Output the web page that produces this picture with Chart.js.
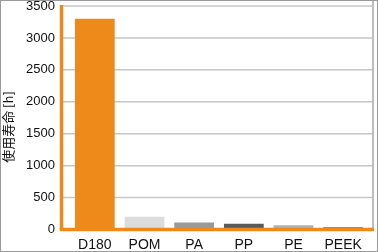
<!DOCTYPE html>
<html>
<head>
<meta charset="utf-8">
<script src="https://cdn.jsdelivr.net/npm/chart.js@4"></script>
<style>
html,body{margin:0;padding:0;background:#fff;}
#wrap{width:378px;height:252px;position:relative;}
</style>
</head>
<body>
<div id="wrap"><canvas id="c" width="378" height="252"></canvas></div>
<script>
const categories = ["D180", "POM", "PA", "PP", "PE", "PEEK"];
const lifetimeHours = [3300, 200, 110, 90, 65, 40];
const barColors = ["#EE8A1A", "#DCDCDC", "#9A9A9A", "#5A5A5A", "#B0B0B0", "#8E8E8E"];
const yTitle = "使用寿命 [h]";
const yMax = 3500;
const yStep = 500;

const ORANGE = "#EE8A1A";
const GRID = "#C6C6C6";

const framePlugin = {
  id: "frame",
  beforeDatasetsDraw(chart) {
    const ctx = chart.ctx, a = chart.chartArea, y = chart.scales.y;
    ctx.save();
    ctx.strokeStyle = GRID;
    ctx.lineWidth = 1.5;
    y.ticks.forEach(t => {
      if (t.value === 0) return;
      const py = y.getPixelForValue(t.value);
      ctx.beginPath();
      ctx.moveTo(a.left - 9, py);
      ctx.lineTo(a.right + 5, py);
      ctx.stroke();
    });
    ctx.strokeStyle = "#BDBDBD";
    ctx.lineWidth = 2;
    ctx.beginPath();
    ctx.moveTo(a.right + 5, 0);
    ctx.lineTo(a.right + 5, a.bottom);
    ctx.stroke();
    ctx.restore();
  },
  afterDatasetsDraw(chart) {
    const ctx = chart.ctx, a = chart.chartArea;
    ctx.save();
    ctx.strokeStyle = ORANGE;
    ctx.lineWidth = 3.5;
    ctx.beginPath();
    ctx.moveTo(a.left - 8.5, a.top - 1);
    ctx.lineTo(a.left - 8.5, a.bottom);
    ctx.stroke();
    ctx.beginPath();
    ctx.moveTo(a.left - 10.25, a.bottom);
    ctx.lineTo(a.right + 6, a.bottom);
    ctx.stroke();
    ctx.fillStyle = "#111";
    ctx.font = "13px 'Noto Sans CJK JP', sans-serif";
    ctx.textAlign = "center";
    ctx.textBaseline = "middle";
    ctx.translate(8, 127);
    ctx.rotate(-Math.PI / 2);
    ctx.fillText(yTitle, 0, 0);
    ctx.restore();
    ctx.save();
    ctx.strokeStyle = "#9A9A9A";
    ctx.lineWidth = 1;
    ctx.strokeRect(0.5, 0.5, chart.width - 1, chart.height - 1);
    ctx.restore();
  }
};

new Chart(document.getElementById("c"), {
  type: "bar",
  data: {
    labels: categories,
    datasets: [{
      data: lifetimeHours,
      backgroundColor: barColors,
      borderWidth: 0,
      barPercentage: 0.8,
      categoryPercentage: 1.0
    }]
  },
  options: {
    responsive: false,
    animation: false,
    events: [],
    layout: { padding: { top: 6, right: 10, left: 0, bottom: 0 } },
    plugins: { legend: { display: false }, tooltip: { enabled: false } },
    scales: {
      x: {
        grid: { display: false, drawTicks: false },
        border: { display: false },
        ticks: { color: "#111", font: { family: "'Liberation Sans', Arial, sans-serif", size: 14 }, padding: 7 },
        afterFit(s) { s.height = 22.5; s.paddingLeft = 0; s.paddingRight = 0; }
      },
      y: {
        min: 0, max: yMax,
        grid: { display: false, drawTicks: false },
        border: { display: false },
        ticks: {
          stepSize: yStep, color: "#111",
          font: { family: "'Liberation Sans', Arial, sans-serif", size: 13 }, padding: 15,
          callback: v => String(v)
        },
        afterFit(s) { s.width = 70; s.paddingTop = 0; s.paddingBottom = 0; }
      }
    }
  },
  plugins: [framePlugin]
});
</script>
</body>
</html>
